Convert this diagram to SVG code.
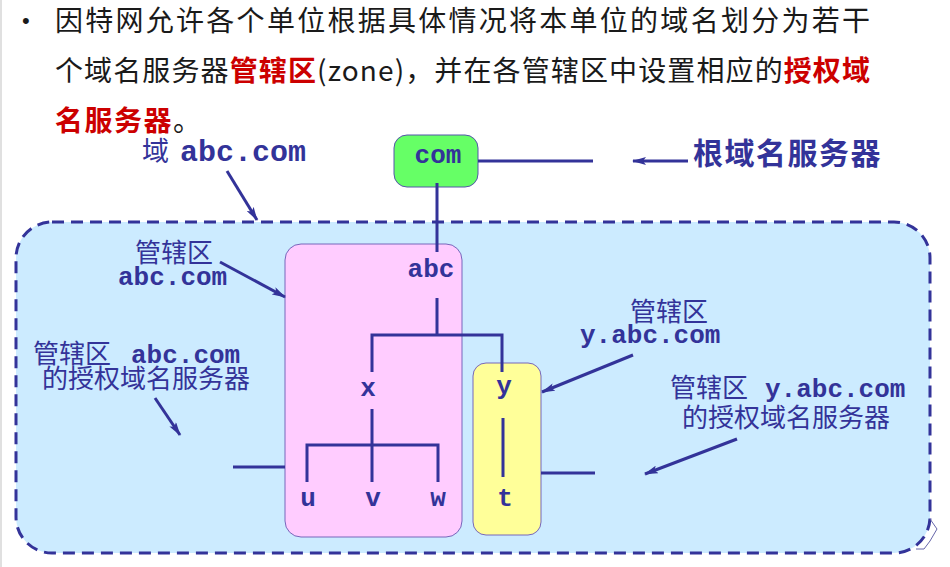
<svg xmlns="http://www.w3.org/2000/svg" width="950" height="567" viewBox="0 0 950 567">
  <style>
    .cjk { font-family: "Noto Sans CJK SC", "Noto Sans", sans-serif; fill: #333399; }
    .mono { font-family: "Liberation Mono", "DejaVu Sans Mono", monospace; font-weight: bold; fill: #333399; }
    .top { font-family: "Noto Sans CJK SC", "Noto Sans", sans-serif; font-size: 28px; fill: #1a1a1a; }
    .red { fill: #CC0000; font-weight: bold; }
    .ln { stroke: #333399; stroke-width: 3; fill: none; }
    .arr { stroke: #333399; stroke-width: 3; fill: none; marker-end: url(#ah); }
    .node { font-family: "Liberation Mono", "DejaVu Sans Mono", monospace; font-weight: bold; font-size: 26px; fill: #333399; text-anchor: middle; }
  </style>
  <defs>
    <marker id="ah" viewBox="0 0 14 8" refX="13" refY="4" markerWidth="14" markerHeight="8" markerUnits="userSpaceOnUse" orient="auto">
      <path d="M0,0 L14,4 L0,8 L3,4 Z" fill="#333399"/>
    </marker>
  </defs>
  <rect width="950" height="567" fill="#ffffff"/>
  <line x1="1" y1="0" x2="1" y2="567" stroke="#e0e0e0" stroke-width="2"/>

  <g id="heading">
    <text x="22" y="28" font-family="Liberation Sans, sans-serif" font-size="22" fill="#1a1a1a">•</text>
    <text class="top" x="55" y="31" textLength="815" lengthAdjust="spacing">因特网允许各个单位根据具体情况将本单位的域名划分为若干</text>
    <text class="top" x="55" y="81" textLength="815" lengthAdjust="spacing">个域名服务器<tspan class="red">管辖区</tspan>(zone)，并在各管辖区中设置相应的<tspan class="red">授权域</tspan></text>
    <text class="top" x="55" y="131" letter-spacing="1.5"><tspan class="red">名服务器</tspan>。</text>
  </g>

  <g id="domain-abc">
    <rect x="16" y="222" width="914" height="331" rx="36" ry="36" fill="#CCEBFF" stroke="#333399" stroke-width="3" stroke-dasharray="12 7"/>
  </g>
  <polyline points="930,519 937,529 930,541 924,549 916,549" fill="none" stroke="#6666aa" stroke-width="1"/>

  <g id="zone-abc">
    <rect x="285" y="244" width="177" height="293" rx="16" ry="16" fill="#FFCCFF" stroke="#7766bb" stroke-width="1"/>
  </g>
  <g id="zone-y">
    <rect x="473" y="363" width="68" height="172" rx="13" ry="13" fill="#FFFF99" stroke="#7766bb" stroke-width="1"/>
  </g>
  <g id="node-com">
    <rect x="394" y="135" width="84" height="52" rx="13" ry="13" fill="#66FF66" stroke="#5555aa" stroke-width="1"/>
    <text class="node" x="438" y="163">com</text>
  </g>

  <g id="connectors">
    <line class="ln" x1="437" y1="183" x2="437" y2="252"/>
    <line class="ln" x1="478" y1="161" x2="593" y2="161"/>
    <line class="ln" x1="437" y1="298" x2="437" y2="335"/>
    <polyline class="ln" points="372,372 372,335 502,335 502,372"/>
    <line class="ln" x1="372" y1="409" x2="372" y2="482"/>
    <polyline class="ln" points="307,482 307,445 438,445 438,482"/>
    <line class="ln" x1="503" y1="418" x2="503" y2="477"/>
    <line class="ln" x1="233" y1="467" x2="285" y2="467"/>
    <line class="ln" x1="541" y1="473" x2="595" y2="473"/>
    <line class="arr" x1="688" y1="161" x2="633" y2="161"/>
    <line class="arr" x1="227" y1="171" x2="257" y2="220"/>
    <line class="arr" x1="220" y1="262" x2="285" y2="297"/>
    <line class="arr" x1="155" y1="398" x2="180" y2="435"/>
    <line class="arr" x1="633" y1="355" x2="542" y2="392"/>
    <line class="arr" x1="737" y1="439" x2="645" y2="474"/>
  </g>

  <g id="node-abc"><text class="node" x="431" y="277">abc</text></g>
  <g id="node-x"><text class="node" x="368" y="396">x</text></g>
  <g id="node-y"><text class="node" x="504" y="394">y</text></g>
  <g id="node-u"><text class="node" x="308" y="506">u</text></g>
  <g id="node-v"><text class="node" x="373" y="506">v</text></g>
  <g id="node-w"><text class="node" x="438" y="506">w</text></g>
  <g id="node-t"><text class="node" x="505" y="506">t</text></g>

  <g id="label-root">
    <text class="cjk" x="693" y="164" font-size="30" font-weight="bold" letter-spacing="1.5">根域名服务器</text>
  </g>
  <g id="label-domain">
    <text x="142" y="161"><tspan class="cjk" font-size="27">域</tspan><tspan class="mono" x="180" font-size="30">abc.com</tspan></text>
  </g>
  <g id="label-zone-abc">
    <text class="cjk" x="135" y="262" font-size="26">管辖区</text>
    <text class="mono" x="118" y="285" font-size="26">abc.com</text>
  </g>
  <g id="label-auth-abc">
    <text x="33" y="363"><tspan class="cjk" font-size="26">管辖区</tspan><tspan class="mono" x="131" font-size="26">abc.com</tspan></text>
    <text class="cjk" x="42" y="388" font-size="26">的授权域名服务器</text>
  </g>
  <g id="label-zone-y">
    <text class="cjk" x="630" y="321" font-size="26">管辖区</text>
    <text class="mono" x="580" y="343" font-size="26">y.abc.com</text>
  </g>
  <g id="label-auth-y">
    <text x="670" y="397"><tspan class="cjk" font-size="26">管辖区</tspan><tspan class="mono" x="765" font-size="26">y.abc.com</tspan></text>
    <text class="cjk" x="682" y="427" font-size="26">的授权域名服务器</text>
  </g>
</svg>
